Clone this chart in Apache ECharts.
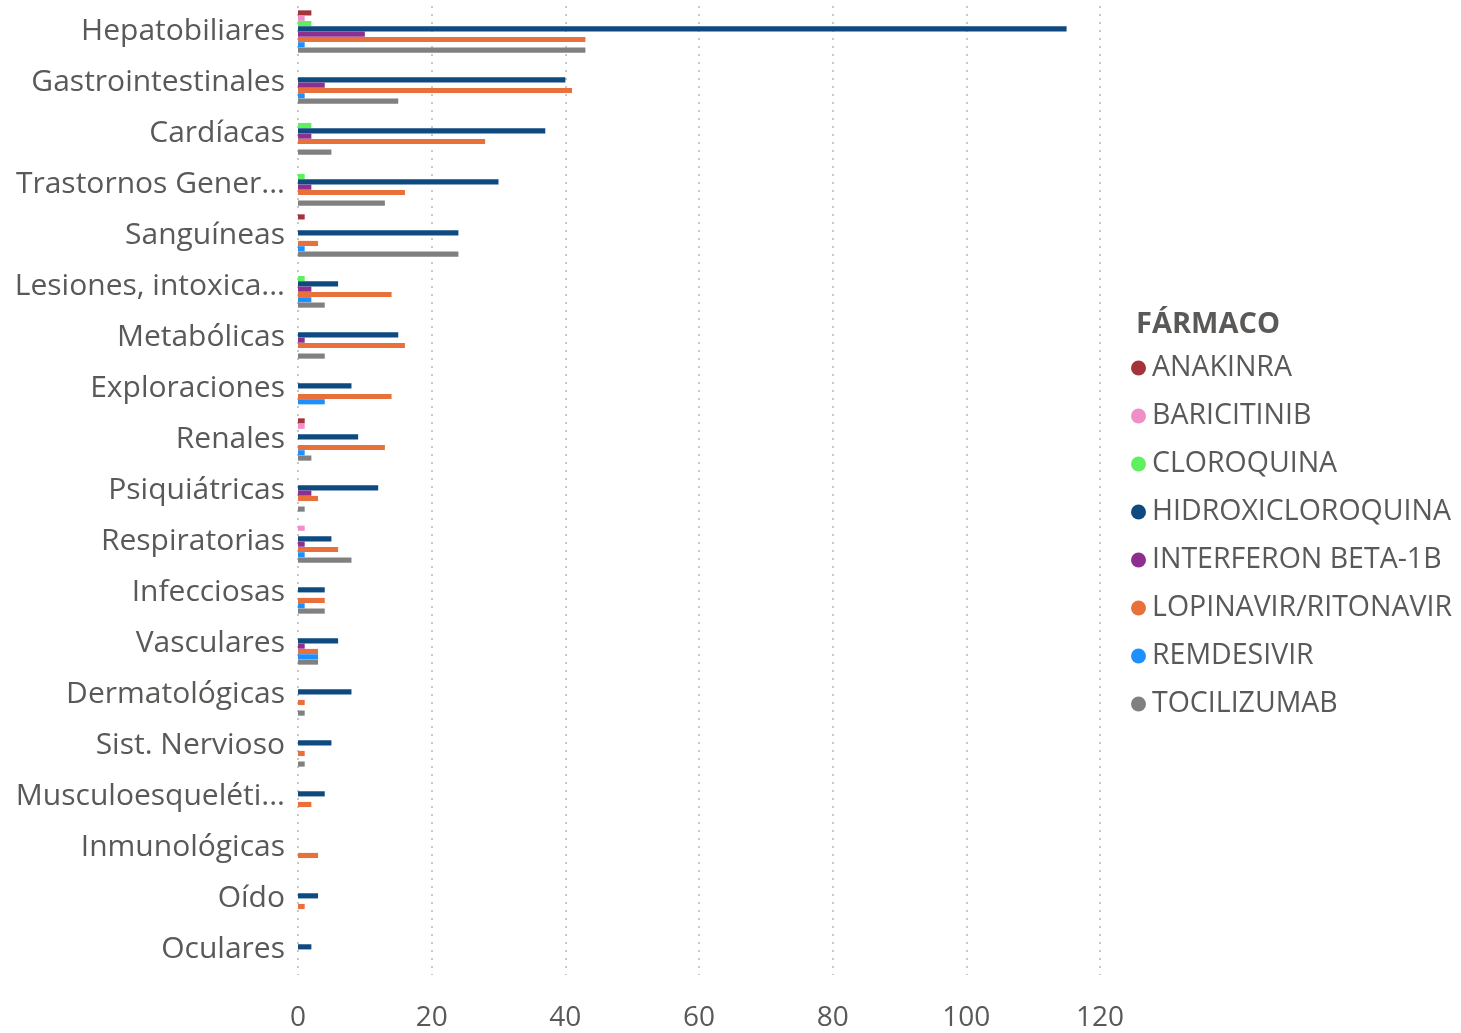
<!DOCTYPE html>
<html>
<head>
<meta charset="utf-8">
<script src="https://cdn.jsdelivr.net/npm/echarts@6/dist/echarts.min.js"></script>
<style>
html,body{margin:0;padding:0;background:#fff;}
#chart{width:1461px;height:1033px;}
</style>
</head>
<body>
<div id="chart"></div>
<script>
var categories = ["Hepatobiliares","Gastrointestinales","Cardíacas","Trastornos Gener...","Sanguíneas","Lesiones, intoxica...","Metabólicas","Exploraciones","Renales","Psiquiátricas","Respiratorias","Infecciosas","Vasculares","Dermatológicas","Sist. Nervioso","Musculoesqueléti...","Inmunológicas","Oído","Oculares"];
var seriesNames = ["ANAKINRA","BARICITINIB","CLOROQUINA","HIDROXICLOROQUINA","INTERFERON BETA-1B","LOPINAVIR/RITONAVIR","REMDESIVIR","TOCILIZUMAB"];
var seriesColors = ["#A4343A","#F08EC8","#5EF05E","#0E4A80","#8C2F8F","#E8703A","#1E8FFF","#808080"];
var anakinra    = [2,0,0,0,1,0,0,0,1,0,0,0,0,0,0,0,0,0,0];
var baricitinib = [1,0,0,0,0,0,0,0,1,0,1,0,0,0,0,0,0,0,0];
var cloroquina  = [2,0,2,1,0,1,0,0,0,0,0,0,0,0,0,0,0,0,0];
var hidroxi     = [115,40,37,30,24,6,15,8,9,12,5,4,6,8,5,4,0,3,2];
var interferon  = [10,4,2,2,0,2,1,0,0,2,1,0,1,0,0,0,0,0,0];
var lopinavir   = [43,41,28,16,3,14,16,14,13,3,6,4,3,1,1,2,3,1,0];
var remdesivir  = [1,1,0,0,1,2,0,4,1,0,1,1,3,0,0,0,0,0,0];
var tocilizumab = [43,15,5,13,24,4,4,0,2,1,8,4,3,1,1,0,0,0,0];
var xTicks = [0,20,40,60,80,100,120];
var allData = [anakinra,baricitinib,cloroquina,hidroxi,interferon,lopinavir,remdesivir,tocilizumab];

var textColor = "#5B5957";
var fontFam = "'Open Sans', 'Noto Sans', sans-serif";

var chart = echarts.init(document.getElementById('chart'));
var series = seriesNames.map(function(n,i){
  return {
    name: n, type: 'bar',
    data: allData[i].map(function(v){ return v === 0 ? null : v; }),
    itemStyle: {color: seriesColors[i]},
    barGap: '3%', barCategoryGap: '17%',
    emphasis: {disabled: true}
  };
});
chart.setOption({
  animation: false,
  backgroundColor: '#fff',
  grid: {left: 298, right: 361, top: 6, bottom: 58, containLabel: false},
  xAxis: {
    type: 'value', min: 0, max: 120, interval: 20,
    axisLine: {show: false}, axisTick: {show: false},
    splitLine: {show: true, lineStyle: {color: '#C8C8C8', type: [2,6], width: 2}},
    axisLabel: {color: textColor, fontSize: 28, fontFamily: fontFam, margin: 29,
      formatter: function(v){ return xTicks.indexOf(v) >= 0 ? String(v) : ''; }}
  },
  yAxis: {
    type: 'category', data: categories, inverse: true,
    axisLine: {show: false}, axisTick: {show: false},
    axisLabel: {color: textColor, fontSize: 30, fontFamily: fontFam, margin: 13}
  },
  title: {
    text: 'FÁRMACO', left: 1136, top: 310, padding: 0,
    textStyle: {color: textColor, fontSize: 29, fontWeight: 'bold', fontFamily: fontFam}
  },
  legend: {
    orient: 'vertical', left: 1131, top: 352, padding: 0,
    icon: 'circle', itemWidth: 15, itemHeight: 15, itemGap: 16,
    textStyle: {color: textColor, fontSize: 28.5, fontFamily: fontFam, lineHeight: 32, padding: [0,0,0,1]},
    data: seriesNames
  },
  series: series
});
</script>
</body>
</html>
